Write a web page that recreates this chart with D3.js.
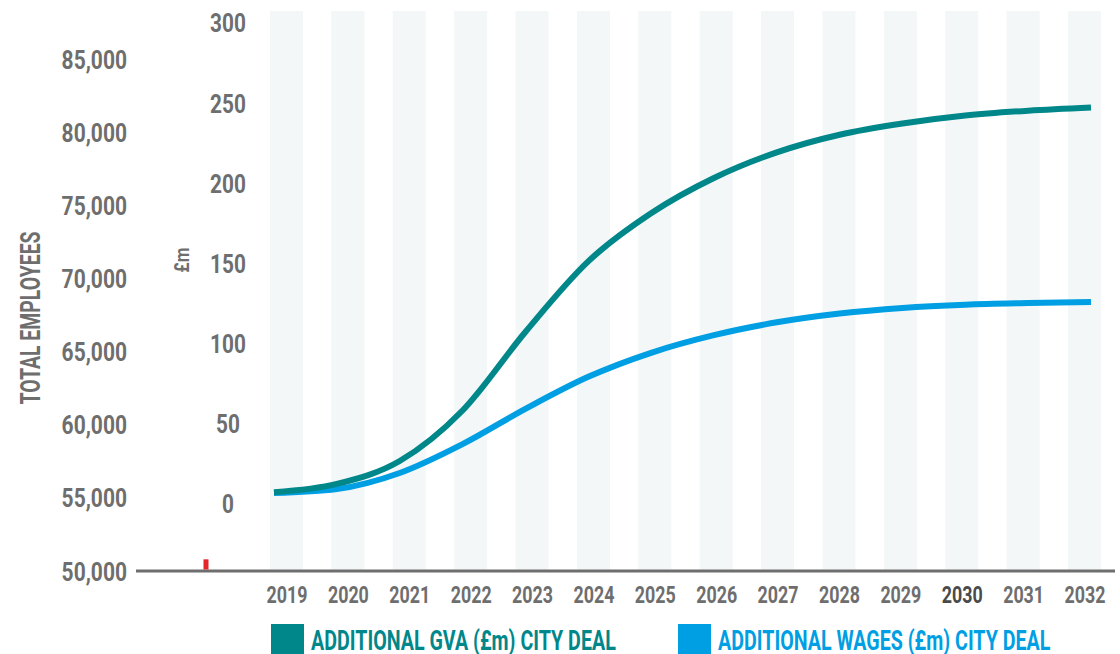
<!DOCTYPE html>
<html>
<head>
<meta charset="utf-8">
<script src="https://cdn.jsdelivr.net/npm/d3@7/dist/d3.min.js"></script>
<style>
  html, body { margin: 0; padding: 0; background: #ffffff; }
  svg { display: block; }
  text { font-family: Roboto, "Noto Sans", sans-serif; font-weight: 700; }
</style>
</head>
<body>
<svg id="chart" width="1120" height="654"></svg>
<script>
// ---- data ----
const years = [2019, 2020, 2021, 2022, 2023, 2024, 2025, 2026, 2027, 2028, 2029, 2030, 2031, 2032];
const gvaValues   = [7, 12.2, 26.5, 58, 107, 151, 181, 203, 219, 230, 237, 242, 245, 247];
const wagesValues = [6.5, 9, 19, 37, 59, 79, 94, 105, 113, 118.5, 122, 124, 125, 125.7];
const employeesTicks = [50000, 55000, 60000, 65000, 70000, 75000, 80000, 85000];
const moneyTicks = [0, 50, 100, 150, 200, 250, 300];
const employeesBar = [{ key: "employees", value: 50800 }];
const seriesNames = ["ADDITIONAL GVA (£m) CITY DEAL", "ADDITIONAL WAGES (£m) CITY DEAL"];
const seriesColors = ["#00878a", "#009fe3"];

const svg = d3.select("#chart");
const grey = "#6e6e6e";
const SX = 0.8;

// ---- scales ----
const yEmp = d3.scaleLinear().domain([50000, 85000]).range([571, 59.5]);
const yMoney = d3.scaleLinear().domain([0, 300]).range([503.5, 22.5]);
const xBand = d3.scalePoint().domain(years).range([286.5, 1084.5]);
const xLine = d3.scaleLinear().domain([2019, 2032]).range([274, 1091]);
const xEmp = d3.scaleBand().domain(employeesBar.map(d => d.key)).range([203.5, 208.5]);

// ---- background bands ----
svg.append("g").selectAll("rect").data(years).join("rect")
  .attr("x", d => xBand(d) - 16.5)
  .attr("width", 33)
  .attr("y", yMoney(300) - 11.5)
  .attr("height", yEmp(50000) - (yMoney(300) - 11.5))
  .attr("fill", "#f3f7f8");

// ---- left axis (employees) ----
const leftAxis = svg.append("g").attr("transform", "translate(127,0)")
  .call(d3.axisLeft(yEmp).tickValues(employeesTicks).tickSize(0).tickPadding(0)
    .tickFormat(d3.format(",")));
leftAxis.select(".domain").remove();
leftAxis.selectAll("text")
  .attr("x", 0).attr("dy", "0.36em")
  .attr("font-size", 25).attr("fill", grey)
  .style("font-family", "Roboto, sans-serif").style("font-weight", 700)
  .attr("transform", `scale(${SX * 1.05},1)`);

// ---- right axis (£m) ----
const rightAxis = svg.append("g").attr("transform", "translate(228,0)")
  .call(d3.axisLeft(yMoney).tickValues(moneyTicks).tickSize(0).tickPadding(0));
rightAxis.select(".domain").remove();
rightAxis.selectAll("text")
  .attr("x", 0).attr("dy", "0.36em")
  .attr("text-anchor", "middle")
  .attr("font-size", 26).attr("fill", grey)
  .style("font-family", "Roboto, sans-serif").style("font-weight", 700)
  .attr("transform", `scale(${SX},1)`);

// ---- bottom axis (years) ----
const bottomAxis = svg.append("g").attr("transform", `translate(0,${yEmp(50000)})`)
  .call(d3.axisBottom(xBand).tickSize(0).tickPadding(0).tickFormat(d3.format("d")));
bottomAxis.select(".domain").remove();
bottomAxis.selectAll("text")
  .attr("x", 0).attr("y", 24).attr("dy", "0.36em")
  .attr("font-size", 23)
  .attr("fill", d => d === 2030 ? "#4a4a4a" : grey)
  .style("font-family", "Roboto, sans-serif").style("font-weight", 700)
  .attr("transform", `scale(${SX * 0.97},1)`);

// baseline
svg.append("line")
  .attr("x1", 136).attr("x2", 1115)
  .attr("y1", yEmp(50000)).attr("y2", yEmp(50000))
  .attr("stroke", "#6e6e6e").attr("stroke-width", 3);

// small employees bar
svg.append("g").selectAll("rect").data(employeesBar).join("rect")
  .attr("x", d => xEmp(d.key))
  .attr("width", xEmp.bandwidth())
  .attr("y", d => yEmp(d.value))
  .attr("height", d => yEmp(50000) - 1.5 - yEmp(d.value))
  .attr("fill", "#e2262b");

// ---- axis titles ----
svg.append("text")
  .attr("transform", `translate(${30},${318}) rotate(-90) scale(0.72,1)`)
  .attr("text-anchor", "middle").attr("dy", "0.36em")
  .attr("font-size", 27).attr("fill", grey)
  .text("TOTAL EMPLOYEES");

svg.append("text")
  .attr("transform", `translate(${182},${260}) rotate(-90) scale(0.85,1)`)
  .attr("text-anchor", "middle").attr("dy", "0.36em")
  .attr("font-size", 20).attr("fill", grey)
  .text("£m");

// ---- lines ----
const seriesData = [gvaValues, wagesValues];
const line = d3.line()
  .x((d, i) => xLine(years[i]))
  .y(d => yMoney(d))
  .curve(d3.curveMonotoneX);

svg.append("g").selectAll("path").data(seriesData.slice().reverse()).join("path")
  .attr("d", d => line(d))
  .attr("fill", "none")
  .attr("stroke", (d, i) => seriesColors[seriesData.length - 1 - i])
  .attr("stroke-width", 6);

// ---- legend ----
const legendX = [271, 678];
const legend = svg.append("g").selectAll("g").data(seriesNames).join("g")
  .attr("transform", (d, i) => `translate(${legendX[i]},624)`);
legend.append("rect")
  .attr("width", 33).attr("height", 30)
  .attr("fill", (d, i) => seriesColors[i]);
legend.append("text")
  .attr("transform", `translate(40,26) scale(0.728,1)`)
  .attr("font-size", 27)
  .attr("fill", (d, i) => seriesColors[i])
  .text(d => d);
</script>
</body>
</html>
